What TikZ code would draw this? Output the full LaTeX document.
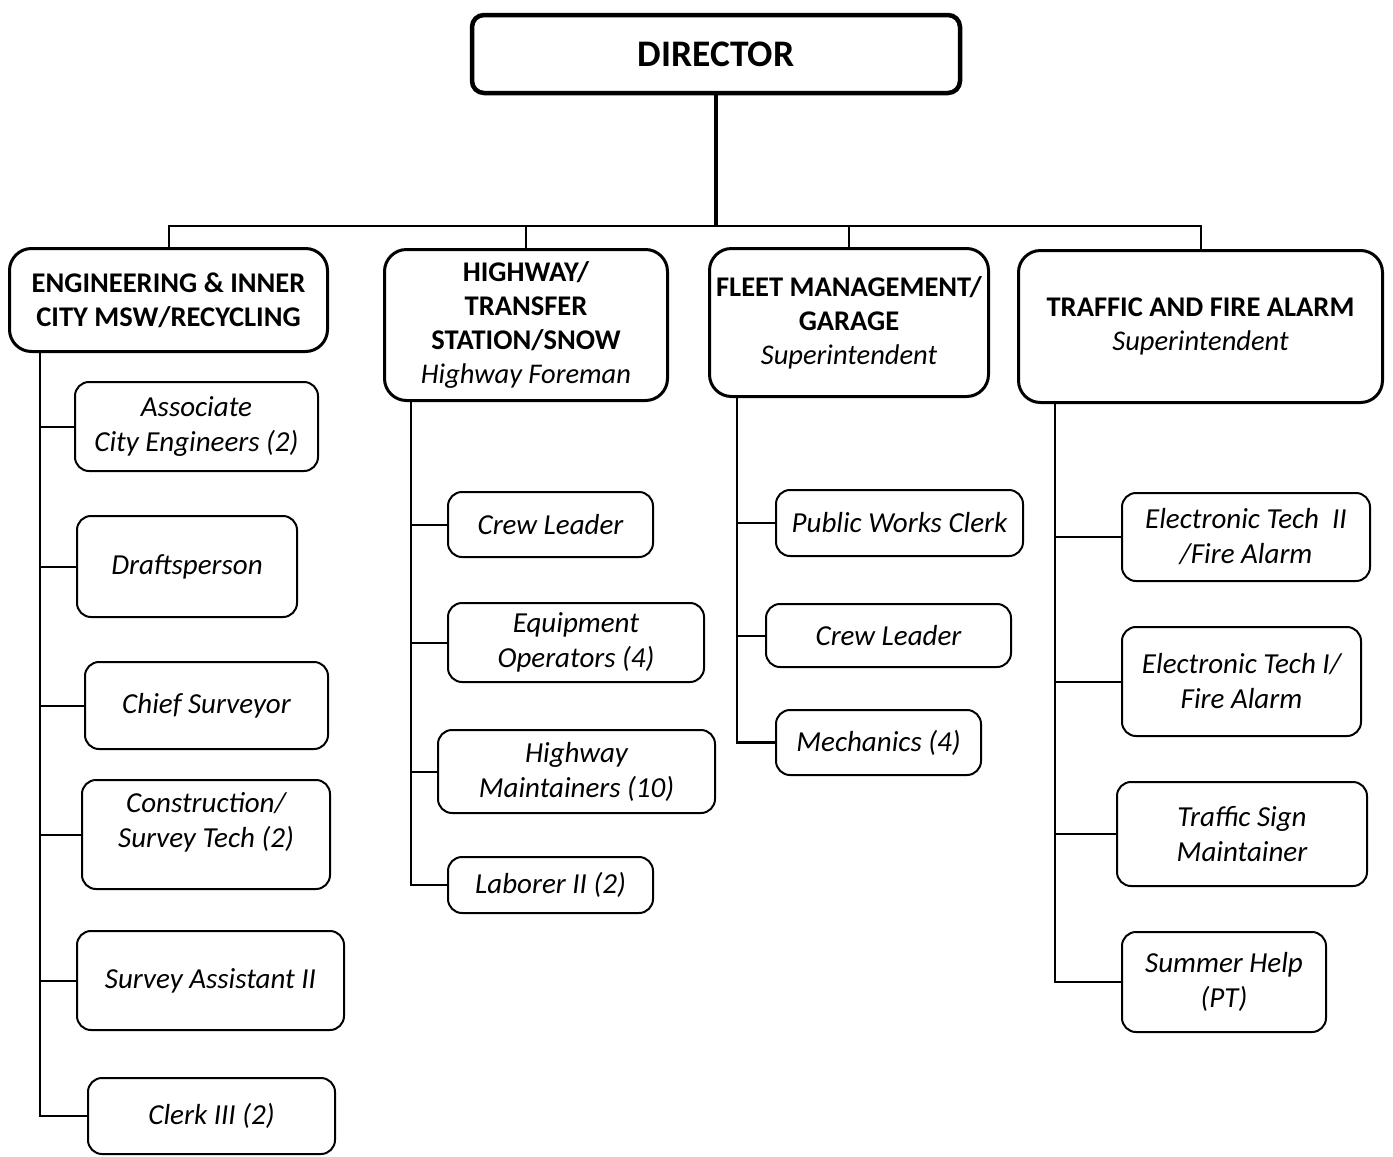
\documentclass[tikz,border=0pt]{standalone}
\usepackage{fontspec}
\setmainfont{Carlito}
\begin{document}
\begin{tikzpicture}[x=1pt,y=-1pt,
  topbox/.style={draw, rounded corners=12pt, line width=4.5pt, inner sep=0pt,
    align=center, font=\fontsize{37.5}{42}\selectfont\bfseries},
  head/.style={draw, rounded corners=22pt, line width=3pt, inner sep=0pt,
    align=center, font=\fontsize{28.5}{34}\selectfont\bfseries},
  unit/.style={draw, rounded corners=14pt, line width=2pt, inner sep=0pt,
    align=center, font=\fontsize{29}{35}\selectfont\itshape},
  label text/.style={inner sep=0pt, align=center, font=\fontsize{29}{35}\selectfont\itshape},
  link/.style={line width=2pt},
  trunk/.style={line width=2.2pt},
]
\useasboundingbox (0,0) rectangle (1393,1157);

% director
\node[topbox, minimum width=488, minimum height=78] (dir) at (716,54) {DIRECTOR};

% division heads
\node[head, minimum width=318, minimum height=103] (eng) at (168.5,300)
  {ENGINEERING \& INNER\\CITY MSW/RECYCLING};
\node[head, minimum width=283, minimum height=151] (hw) at (526,325)
  {HIGHWAY/\\TRANSFER\\STATION/SNOW\\{\itshape\mdseries Highway Foreman}};
\node[head, minimum width=279, minimum height=148] (fl) at (849,322.5)
  {FLEET MANAGEMENT/\\GARAGE\\{\itshape\mdseries Superintendent}};
\node[head, minimum width=364, minimum height=152] (tr) at (1200.5,326.5)
  {TRAFFIC AND FIRE ALARM\\{\itshape\mdseries Superintendent}};

% engineering staff
\node[unit, minimum width=243, minimum height=89] (ce1) at (196.5,426.5) {Associate\\City Engineers (2)};
\node[unit, minimum width=220, minimum height=101] (ce2) at (187,566.5) {Draftsperson};
\node[unit, minimum width=243, minimum height=87] (ce3) at (206.5,705.5) {Chief Surveyor};
\node[unit, minimum width=248, minimum height=109] (ce4) at (206,834.5) {};
\node[label text] (ce4t) at ([yshift=12pt]ce4.center) {Construction/\\Survey Tech (2)};
\node[unit, minimum width=267, minimum height=99] (ce5) at (210.5,980.5) {Survey Assistant II};
\node[unit, minimum width=247, minimum height=76] (ce6) at (211.5,1116) {Clerk III (2)};

% highway staff
\node[unit, minimum width=205, minimum height=65] (ch1) at (550.5,524.5) {Crew Leader};
\node[unit, minimum width=256, minimum height=79] (ch2) at (576,642.5) {Equipment\\Operators (4)};
\node[unit, minimum width=277, minimum height=83] (ch3) at (576.5,771.5) {Highway\\Maintainers (10)};
\node[unit, minimum width=205, minimum height=56] (ch4) at (550.5,885) {Laborer II (2)};

% fleet staff
\node[unit, minimum width=247, minimum height=66] (cf1) at (899.5,523) {Public Works Clerk};
\node[unit, minimum width=245, minimum height=63] (cf2) at (888.5,635.5) {Crew Leader};
\node[unit, minimum width=205, minimum height=65] (cf3) at (878.5,742.5) {Mechanics (4)};

% traffic staff
\node[unit, minimum width=248, minimum height=88] (ct1) at (1246,537) {Electronic Tech\ \ II\\/Fire Alarm};
\node[unit, minimum width=239, minimum height=109] (ct2) at (1241.5,681.5) {Electronic Tech I/\\Fire Alarm};
\node[unit, minimum width=250, minimum height=104] (ct3) at (1242,834) {Traffic Sign\\Maintainer};
\node[unit, minimum width=204, minimum height=100] (ct4) at (1224,982) {Summer Help\\(PT)};

% top-level bus
\coordinate (bus) at (716,226);
\draw[line width=3.5pt] (dir.south) -- (bus);
\draw[link] (eng.north) |- (bus) -| (tr.north);
\draw[link] (hw.north) -- (hw.north |- bus);
\draw[link] (fl.north) -- (fl.north |- bus);

% trunk lines under each division
\coordinate (engbus) at ([xshift=32pt]eng.south west);
\coordinate (hwbus) at ([xshift=28pt]hw.south west);
\coordinate (flbus) at ([xshift=29pt]fl.south west);
\coordinate (trbus) at ([xshift=38pt]tr.south west);

\draw[trunk] (engbus) |- (ce6.west);
\foreach \n in {ce1,ce2,ce3,ce4,ce5} \draw[link] (\n.west) -- (\n.west -| engbus);
\draw[trunk] (hwbus) |- (ch4.west);
\foreach \n in {ch1,ch2,ch3} \draw[link] (\n.west) -- (\n.west -| hwbus);
\draw[trunk] (flbus) |- (cf3.west);
\foreach \n in {cf1,cf2} \draw[link] (\n.west) -- (\n.west -| flbus);
\draw[trunk] (trbus) |- (ct4.west);
\foreach \n in {ct1,ct2,ct3} \draw[link] (\n.west) -- (\n.west -| trbus);
\end{tikzpicture}
\end{document}
